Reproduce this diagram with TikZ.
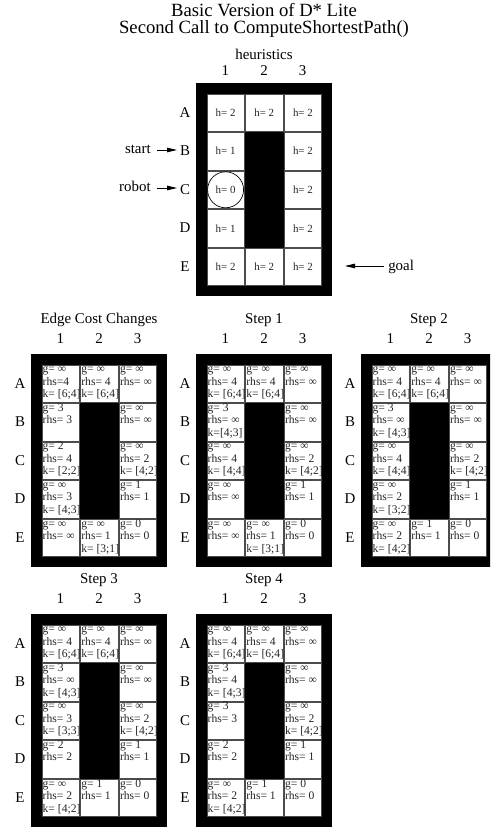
\documentclass[tikz,border=0pt]{standalone}
\usepackage{fontspec}
\setmainfont{Liberation Serif}
\usetikzlibrary{arrows.meta}
\tikzset{
  x=0.75pt, y=-0.75pt,
  frame/.style={fill=black},
  cellbox/.style={draw=black!70, line width=0.4pt, fill=white, minimum width=28.1pt, minimum height=28.1pt, inner sep=0pt, anchor=north west},
  celltxt/.style={anchor=north west, inner sep=0pt, font=\fontsize{8.7}{9.4}\selectfont, align=left, text=black!85},
  htxt/.style={font=\fontsize{8.2}{9}\selectfont, text=black!85},
  lbl/.style={font=\fontsize{11.2}{13}\selectfont, inner sep=0pt},
  ttl/.style={font=\fontsize{14}{16}\selectfont, inner sep=0pt, anchor=base},
  arr/.style={-{Triangle[length=7.5pt,width=3.4pt]}, line width=0.6pt}
}
\newcommand\cz{\rule{0pt}{5.8pt}}
\newcommand\gridframe[2]{%
  \fill[frame] (0,0) rectangle (136,213);
  \node[lbl,anchor=base] (#1-c1) at (29.3,#2) {1};
  \node[lbl,anchor=base] (#1-c2) at (68,#2) {2};
  \node[lbl,anchor=base] (#1-c3) at (106.7,#2) {3};
  \node[lbl] (#1-rA) at (-11,29.3) {A};
  \node[lbl] (#1-rB) at (-11,67.9) {B};
  \node[lbl] (#1-rC) at (-11,106.5) {C};
  \node[lbl] (#1-rD) at (-11,145.1) {D};
  \node[lbl] (#1-rE) at (-11,183.7) {E};
}
\newcommand\gcell[5]{%
  \node[cellbox] (#1-#4) at ({10.6+#2*38.67},{10.6+#3*38.6}) {};
  \begin{scope}
    \clip (#1-#4.north west) rectangle (#1-#4.south east);
    \node[celltxt] (#1-#4t) at ([xshift=0.6pt]#1-#4.north west) {\cz#5};
  \end{scope}
}
\newcommand\hcell[5]{%
  \node[cellbox,htxt] (#1-#4) at ({10.6+#2*38.67},{10.6+#3*38.6}) {#5};
}
\begin{document}
\begin{tikzpicture}
\useasboundingbox (0,0) rectangle (490,827);
\clip (0,0) rectangle (490,827);
\fill[white] (0,0) rectangle (490,827);

\node[ttl] (title1) at (264,17) {Basic Version of D* Lite};
\node[ttl] (title2) at (264,34) {Second Call to ComputeShortestPath()};

% heuristics grid
\begin{scope}[shift={(196,83)}]
\gridframe{h}{-7}
\node[lbl,anchor=base] (h-title) at (68,-23) {heuristics};
\hcell{h}{0}{0}{A1}{h= 2}
\hcell{h}{1}{0}{A2}{h= 2}
\hcell{h}{2}{0}{A3}{h= 2}
\hcell{h}{0}{1}{B1}{h= 1}
\hcell{h}{2}{1}{B3}{h= 2}
\hcell{h}{0}{2}{C1}{h= 0}
\hcell{h}{2}{2}{C3}{h= 2}
\hcell{h}{0}{3}{D1}{h= 1}
\hcell{h}{2}{3}{D3}{h= 2}
\hcell{h}{0}{4}{E1}{h= 2}
\hcell{h}{1}{4}{E2}{h= 2}
\hcell{h}{2}{4}{E3}{h= 2}
\node[draw, circle, line width=0.5pt, minimum size=27pt, inner sep=0pt] (robotmark) at (h-C1.center) {};
\end{scope}

\node[lbl,anchor=base east] (startlbl) at (151,154) {start};
\node[lbl,anchor=base east] (robotlbl) at (151,192) {robot};
\node[lbl,anchor=base west] (goallbl) at (388,270) {goal};
\coordinate (starttip) at (177,150);
\coordinate (robottip) at (177,188);
\coordinate (goaltip) at (345,266);
\draw[arr] ([xshift=4.5pt]startlbl.east |- starttip) -- (starttip);
\draw[arr] ([xshift=4.5pt]robotlbl.east |- robottip) -- (robottip);
\draw[arr] ([xshift=-3pt]goallbl.west |- goaltip) -- (goaltip);

% Edge cost changes
\begin{scope}[shift={(31,354)}]
\gridframe{ga}{-11}
\node[lbl,anchor=base] (ga-title) at (68,-31) {Edge Cost Changes};
\gcell{ga}{0}{0}{A1}{g= ∞\\rhs=4\\k= [6;4]}
\gcell{ga}{1}{0}{A2}{g= ∞\\rhs= 4\\k= [6;4]}
\gcell{ga}{2}{0}{A3}{g= ∞\\rhs= ∞}
\gcell{ga}{0}{1}{B1}{g= 3\\rhs= 3}
\gcell{ga}{2}{1}{B3}{g= ∞\\rhs= ∞}
\gcell{ga}{0}{2}{C1}{g= 2\\rhs= 4\\k= [2;2]}
\gcell{ga}{2}{2}{C3}{g= ∞\\rhs= 2\\k= [4;2]}
\gcell{ga}{0}{3}{D1}{g= ∞\\rhs= 3\\k= [4;3]}
\gcell{ga}{2}{3}{D3}{g= 1\\rhs= 1}
\gcell{ga}{0}{4}{E1}{g= ∞\\rhs= ∞}
\gcell{ga}{1}{4}{E2}{g= ∞\\rhs= 1\\k= [3;1]}
\gcell{ga}{2}{4}{E3}{g= 0\\rhs= 0}
\end{scope}

% Step 1
\begin{scope}[shift={(196,354)}]
\gridframe{gb}{-11}
\node[lbl,anchor=base] (gb-title) at (68,-31) {Step 1};
\gcell{gb}{0}{0}{A1}{g= ∞\\rhs= 4\\k= [6;4]}
\gcell{gb}{1}{0}{A2}{g= ∞\\rhs= 4\\k= [6;4]}
\gcell{gb}{2}{0}{A3}{g= ∞\\rhs= ∞}
\gcell{gb}{0}{1}{B1}{g= 3\\rhs= ∞\\k=[4;3]}
\gcell{gb}{2}{1}{B3}{g= ∞\\rhs= ∞}
\gcell{gb}{0}{2}{C1}{g= ∞\\rhs= 4\\k= [4;4]}
\gcell{gb}{2}{2}{C3}{g= ∞\\rhs= 2\\k= [4;2]}
\gcell{gb}{0}{3}{D1}{g= ∞\\rhs= ∞}
\gcell{gb}{2}{3}{D3}{g= 1\\rhs= 1}
\gcell{gb}{0}{4}{E1}{g= ∞\\rhs= ∞}
\gcell{gb}{1}{4}{E2}{g= ∞\\rhs= 1\\k= [3;1]}
\gcell{gb}{2}{4}{E3}{g= 0\\rhs= 0}
\end{scope}

% Step 2
\begin{scope}[shift={(361,354)}]
\gridframe{gc}{-11}
\node[lbl,anchor=base] (gc-title) at (68,-31) {Step 2};
\gcell{gc}{0}{0}{A1}{g= ∞\\rhs= 4\\k= [6;4]}
\gcell{gc}{1}{0}{A2}{g= ∞\\rhs= 4\\k= [6;4]}
\gcell{gc}{2}{0}{A3}{g= ∞\\rhs= ∞}
\gcell{gc}{0}{1}{B1}{g= 3\\rhs= ∞\\k= [4;3]}
\gcell{gc}{2}{1}{B3}{g= ∞\\rhs= ∞}
\gcell{gc}{0}{2}{C1}{g= ∞\\rhs= 4\\k= [4;4]}
\gcell{gc}{2}{2}{C3}{g= ∞\\rhs= 2\\k= [4;2]}
\gcell{gc}{0}{3}{D1}{g= ∞\\rhs= 2\\k= [3;2]}
\gcell{gc}{2}{3}{D3}{g= 1\\rhs= 1}
\gcell{gc}{0}{4}{E1}{g= ∞\\rhs= 2\\k= [4;2]}
\gcell{gc}{1}{4}{E2}{g= 1\\rhs= 1}
\gcell{gc}{2}{4}{E3}{g= 0\\rhs= 0}
\end{scope}

% Step 3
\begin{scope}[shift={(31,614)}]
\gridframe{gd}{-11}
\node[lbl,anchor=base] (gd-title) at (68,-31) {Step 3};
\gcell{gd}{0}{0}{A1}{g= ∞\\rhs= 4\\k= [6;4]}
\gcell{gd}{1}{0}{A2}{g= ∞\\rhs= 4\\k= [6;4]}
\gcell{gd}{2}{0}{A3}{g= ∞\\rhs= ∞}
\gcell{gd}{0}{1}{B1}{g= 3\\rhs= ∞\\k= [4;3]}
\gcell{gd}{2}{1}{B3}{g= ∞\\rhs= ∞}
\gcell{gd}{0}{2}{C1}{g= ∞\\rhs= 3\\k= [3;3]}
\gcell{gd}{2}{2}{C3}{g= ∞\\rhs= 2\\k= [4;2]}
\gcell{gd}{0}{3}{D1}{g= 2\\rhs= 2}
\gcell{gd}{2}{3}{D3}{g= 1\\rhs= 1}
\gcell{gd}{0}{4}{E1}{g= ∞\\rhs= 2\\k= [4;2]}
\gcell{gd}{1}{4}{E2}{g= 1\\rhs= 1}
\gcell{gd}{2}{4}{E3}{g= 0\\rhs= 0}
\end{scope}

% Step 4
\begin{scope}[shift={(196,614)}]
\gridframe{ge}{-11}
\node[lbl,anchor=base] (ge-title) at (68,-31) {Step 4};
\gcell{ge}{0}{0}{A1}{g= ∞\\rhs= 4\\k= [6;4]}
\gcell{ge}{1}{0}{A2}{g= ∞\\rhs= 4\\k= [6;4]}
\gcell{ge}{2}{0}{A3}{g= ∞\\rhs= ∞}
\gcell{ge}{0}{1}{B1}{g= 3\\rhs= 4\\k= [4;3]}
\gcell{ge}{2}{1}{B3}{g= ∞\\rhs= ∞}
\gcell{ge}{0}{2}{C1}{g= 3\\rhs= 3}
\gcell{ge}{2}{2}{C3}{g= ∞\\rhs= 2\\k= [4;2]}
\gcell{ge}{0}{3}{D1}{g= 2\\rhs= 2}
\gcell{ge}{2}{3}{D3}{g= 1\\rhs= 1}
\gcell{ge}{0}{4}{E1}{g= ∞\\rhs= 2\\k= [4;2]}
\gcell{ge}{1}{4}{E2}{g= 1\\rhs= 1}
\gcell{ge}{2}{4}{E3}{g= 0\\rhs= 0}
\end{scope}
\end{tikzpicture}
\end{document}
